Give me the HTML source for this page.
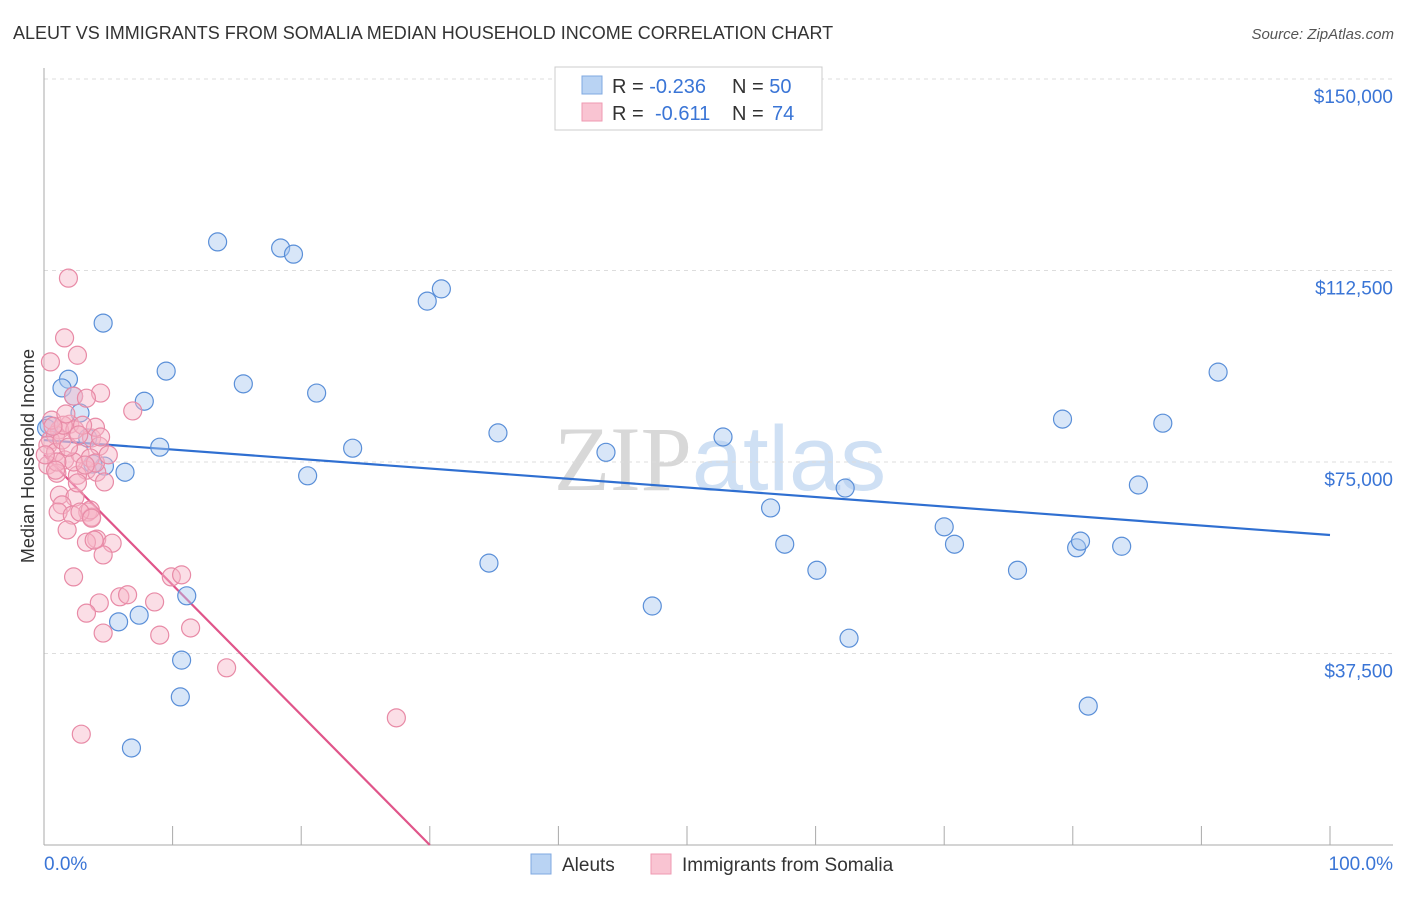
<!DOCTYPE html>
<html><head><meta charset="utf-8"><style>
body{margin:0;background:#fff;font-family:"Liberation Sans",sans-serif;}
svg text{font-family:"Liberation Sans",sans-serif;}
</style></head><body>
<svg id="chart" width="1406" height="892" xmlns="http://www.w3.org/2000/svg">
<text x="13" y="39" font-size="18" fill="#333">ALEUT VS IMMIGRANTS FROM SOMALIA MEDIAN HOUSEHOLD INCOME CORRELATION CHART</text>
<text x="1394" y="39" font-size="15" fill="#555" text-anchor="end" font-style="italic">Source: ZipAtlas.com</text>
<text transform="translate(34,456) rotate(-90)" font-size="18" fill="#333" text-anchor="middle">Median Household Income</text>
<text x="720" y="490" font-size="92" fill="#e4e4e4" text-anchor="middle"><tspan font-family="Liberation Serif" fill="#d8d8d8">ZIP</tspan><tspan fill="#cfe0f4">atlas</tspan></text>
<g id="grid"></g><g id="axes"></g><g id="trend"></g><g id="pts"></g>
<g>
<rect x="555" y="67" width="267" height="63" fill="#fff" stroke="#ccc"/>
<rect x="582" y="76" width="20" height="18" fill="#b9d3f3" stroke="#7fa8e0"/>
<rect x="582" y="103" width="20" height="18" fill="#f9c4d2" stroke="#ef9ab2"/>
<text x="612" y="93" font-size="20" fill="#333">R = <tspan fill="#3a75d6">-0.236</tspan><tspan x="732">N = </tspan><tspan fill="#3a75d6">50</tspan></text>
<text x="612" y="120" font-size="20" fill="#333">R = <tspan x="655" fill="#3a75d6">-0.611</tspan><tspan x="732">N = </tspan><tspan x="772" fill="#3a75d6">74</tspan></text>
</g>
<g>
<rect x="531" y="854" width="20" height="20" fill="#b9d3f3" stroke="#7fa8e0"/>
<text x="562" y="871" font-size="19" fill="#333">Aleuts</text>
<rect x="651" y="854" width="20" height="20" fill="#f9c4d2" stroke="#ef9ab2"/>
<text x="682" y="871" font-size="19" fill="#333">Immigrants from Somalia</text>
</g>
</svg>
<script>
const yTicks=[37500,75000,112500,150000];
const yTickLabels=["$37,500","$75,000","$112,500","$150,000"];
const xTickLabels=["0.0%","100.0%"];
const aleutX=[4.6,1.9,1.4,2.8,2.3,9.5,7.8,9.0,3.4,0.4,6.3,4.7,3.8,5.8,7.4,11.1,10.7,10.6,6.8,13.5,18.4,19.4,15.5,21.2,24.0,20.5,29.8,30.9,35.3,34.6,43.7,47.3,52.8,56.5,57.6,60.1,62.3,62.6,70.0,70.8,75.7,79.2,80.3,80.6,81.2,83.8,85.1,87.0,91.3,0.2];
const aleutY=[102200,91200,89500,84600,87900,92800,86900,77900,79700,82200,73000,74200,74600,43700,45000,48800,36200,29000,19000,118100,116900,115700,90300,88500,77700,72300,106500,108900,80700,55200,76900,46800,79900,66000,58900,53800,69900,40500,62300,58900,53800,83400,58200,59500,27200,58500,70500,82600,92600,81600];
const somX=[1.9,1.6,2.6,0.5,4.4,2.3,3.3,6.9,2.0,1.2,0.5,0.9,2.4,0.3,3.7,4.3,0.9,1.6,2.8,3.3,2.6,4.1,4.7,0.3,1.0,2.3,3.6,1.2,2.4,1.4,1.1,3.4,2.2,3.7,3.6,2.8,1.8,4.1,3.3,5.3,4.6,2.3,5.9,4.3,3.3,6.5,8.6,9.9,10.7,4.6,9.0,11.4,14.2,27.4,2.9,1.0,0.6,1.4,4.0,3.0,1.9,4.0,5.0,0.9,3.2,1.5,2.6,0.7,3.9,3.7,0.1,1.7,2.7,4.4];
const somY=[111000,99300,95900,94600,88500,87900,87500,85000,82400,81300,79300,80300,81300,78300,79700,78100,76900,75400,76600,73400,72400,73000,71100,74400,72800,75000,75800,68500,68100,66600,65200,65200,64600,64200,65600,65200,61700,59900,59300,59100,56800,52500,48600,47400,45400,49000,47600,52500,52900,41500,41100,42500,34700,24900,21700,75000,83200,79300,81800,82200,77900,74800,76400,73400,74400,82200,70900,82000,59700,64000,76400,84400,80300,79900];
const aleutTrend=[79300,60700];
const somTrend=[76400,-30];
const NS="http://www.w3.org/2000/svg";
const X0=44,X1=1330,Y0=845,YPER=191.5/37500;
const sx=v=>X0+(X1-X0)*v/100;
const sy=v=>Y0-v*YPER;
function mk(tag,attrs,parent){const e=document.createElementNS(NS,tag);for(const k in attrs)e.setAttribute(k,attrs[k]);parent.appendChild(e);return e;}
const grid=document.getElementById('grid'),axes=document.getElementById('axes'),trend=document.getElementById('trend'),pts=document.getElementById('pts');
yTicks.forEach((t,i)=>{
 const l=mk('line',{x1:X0,x2:1393,y1:sy(t),y2:sy(t),stroke:'#ddd','stroke-dasharray':'4 4'},grid);
 
 
 const tx=mk('text',{x:1393,y:sy(t)+24,'font-size':19,fill:'#3a75d6','text-anchor':'end'},axes);
 tx.textContent=yTickLabels[i];
 
 
});
const ax=mk('line',{x1:X0,x2:X0,y1:68,y2:Y0,stroke:'#aaa'},axes);


const bx=mk('line',{x1:X0,x2:1393,y1:Y0,y2:Y0,stroke:'#aaa'},axes);


for(let i=0;i<=10;i++){
 const t=mk('line',{x1:sx(i*10),x2:sx(i*10),y1:Y0,y2:826,stroke:'#aaa'},axes);
 
 
}
[[0,'start',X0],[100,'end',1393]].forEach((d,i)=>{
 const t=mk('text',{x:d[2],y:870,'font-size':19,fill:'#3a75d6','text-anchor':d[1]},axes);
 t.textContent=xTickLabels[i];
 
 
});
function dots(xs,ys,fill,stroke,name){
 xs.forEach((x,i)=>{
  const c=mk('circle',{cx:sx(x),cy:sy(ys[i]),r:9,fill:fill,'fill-opacity':0.45,stroke:stroke,'stroke-width':1.2},pts);
  
  
 });
}
dots(aleutX,aleutY,'#a9c8f0','#5a8fd8','aleut-point');
dots(somX,somY,'#f6b5c8','#e88aa6','somalia-point');
const tl1=mk('line',{x1:sx(0),y1:sy(aleutTrend[0]),x2:sx(100),y2:sy(aleutTrend[1]),stroke:'#2f6fd1','stroke-width':2.2},trend);


const zeroX=somTrend[0]/(somTrend[0]/30);
const tl2=mk('line',{x1:sx(0),y1:sy(somTrend[0]),x2:sx(30),y2:sy(0),stroke:'#e0558a','stroke-width':2.2},trend);


</script>
</body></html>
